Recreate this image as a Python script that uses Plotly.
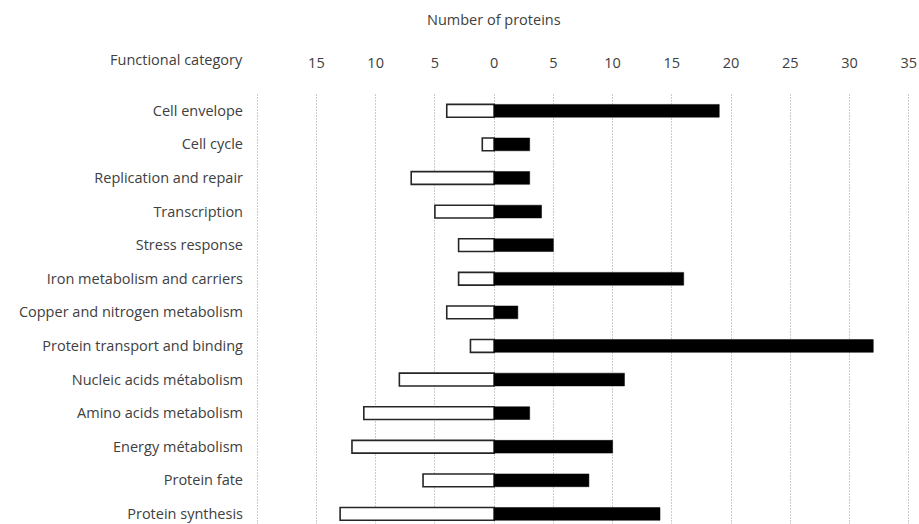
import plotly.graph_objects as go

categories = [
    "Cell envelope", "Cell cycle", "Replication and repair", "Transcription",
    "Stress response", "Iron metabolism and carriers", "Copper and nitrogen metabolism",
    "Protein transport and binding", "Nucleic acids métabolism", "Amino acids metabolism",
    "Energy métabolism", "Protein fate", "Protein synthesis",
]
down_values = [4, 1, 7, 5, 3, 3, 4, 2, 8, 11, 12, 6, 13]
up_values = [19, 3, 3, 4, 5, 16, 2, 32, 11, 3, 10, 8, 14]
tick_vals = [-20, -15, -10, -5, 0, 5, 10, 15, 20, 25, 30, 35]
tick_text = ["", "15", "10", "5", "0", "5", "10", "15", "20", "25", "30", "35"]

FONT = "Open Sans"
TXT = "#404040"
FS = 14.5

fig = go.Figure()
fig.add_trace(go.Bar(
    y=categories, x=[-v for v in down_values], orientation="h",
    marker=dict(color="white", line=dict(color="#262626", width=1.6)),
    showlegend=False, hoverinfo="x+y",
))
fig.add_trace(go.Bar(
    y=categories, x=up_values, orientation="h",
    marker=dict(color="black", line=dict(color="black", width=0.5)),
    showlegend=False, hoverinfo="x+y",
))

W, H = 919, 524
mt, mb, ml, mr = 94, 0, 256, 9
ph = H - mt - mb

fig.update_layout(
    width=W, height=H,
    margin=dict(l=ml, r=mr, t=mt, b=mb, pad=0, autoexpand=False),
    paper_bgcolor="white", plot_bgcolor="white",
    barmode="relative", bargap=0.62,
    font=dict(family=FONT, size=FS, color=TXT),
    xaxis=dict(
        range=[-20.1, 35.1], side="top", tickmode="array",
        tickvals=tick_vals, ticktext=tick_text,
        showgrid=True, gridcolor="#cccccc", griddash="2px,1px", gridwidth=1,
        zeroline=False, showline=False, ticks="", ticklabelstandoff=22,
        tickfont=dict(family=FONT, size=FS, color=TXT), fixedrange=True,
        automargin=False,
    ),
    yaxis=dict(
        range=[12.3, -0.5], showgrid=False, zeroline=False, showline=False,
        ticks="", ticklabelstandoff=12,
        tickfont=dict(family=FONT, size=FS, color=TXT), fixedrange=True,
        automargin=False,
    ),
    annotations=[
        dict(text="Number of proteins", xref="x", x=0, yref="paper",
             y=1 + (mt - 20) / ph, xanchor="center", yanchor="middle",
             showarrow=False, font=dict(family=FONT, size=FS, color=TXT)),
        dict(text="Functional category", xref="paper", x=-11 / (W - ml - mr),
             yref="paper", y=1 + (mt - 60) / ph, xanchor="right", yanchor="middle",
             showarrow=False, font=dict(family=FONT, size=FS, color=TXT)),
    ],
)

fig.write_html(
    "out.html",
    config={"displayModeBar": False},
    post_script="document.body.style.margin='0';document.body.style.overflow='hidden';",
)
